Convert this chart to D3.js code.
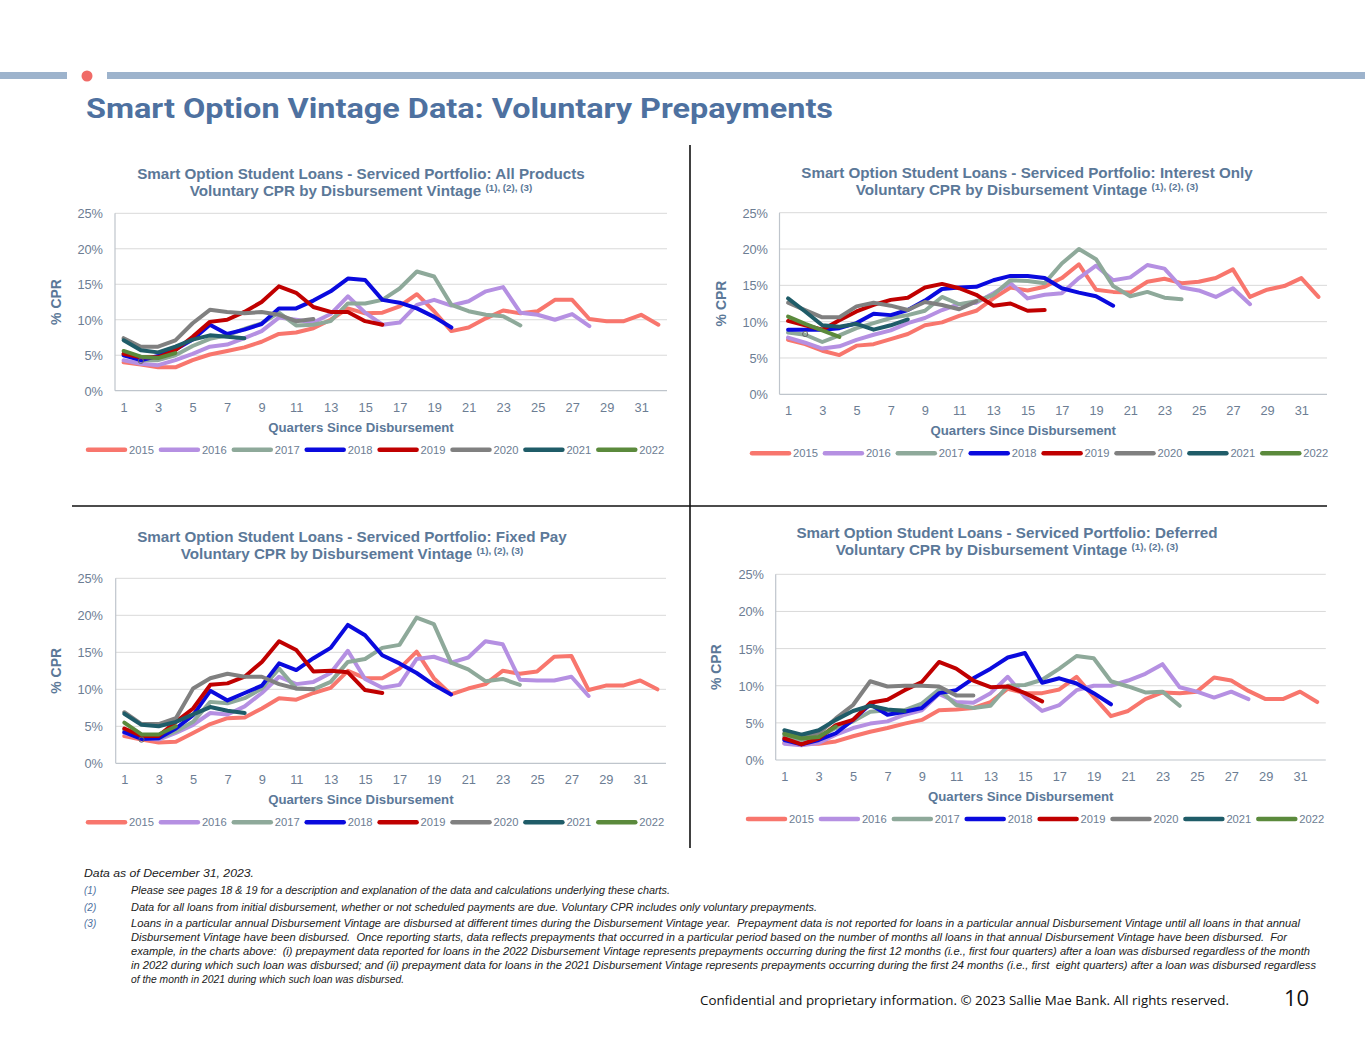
<!DOCTYPE html>
<html>
<head>
<meta charset="utf-8">
<script src="https://cdn.jsdelivr.net/npm/d3@7"></script>
<style>
  body { margin: 0; background: #fff; }
  svg { display: block; font-family: "Liberation Sans", Arial, sans-serif; }
  .ctitle { font-weight: bold; font-size: 15.2px; fill: #5b7898; }
  .tick text { font-size: 12.8px; fill: #6c7d93; }
  .axtitle { font-weight: bold; font-size: 13.2px; fill: #5b7898; }
  .ytitle { font-weight: bold; font-size: 14px; fill: #5b7898; }
  .leg { font-size: 11.2px; fill: #6c7d93; }
  .note { font-style: italic; font-size: 10px; fill: #222; }
</style>
</head>
<body>
<script>
var W = 1365, H = 1055;

var vintages = ["2015", "2016", "2017", "2018", "2019", "2020", "2021", "2022"];
var colors = ["#f8766d", "#b590e2", "#8ea99a", "#0a0ade", "#c00000", "#808080", "#1f5c68", "#5b8a3c"];
var yTicks = [0, 5, 10, 15, 20, 25];
var xTicks = [1, 3, 5, 7, 9, 11, 13, 15, 17, 19, 21, 23, 25, 27, 29, 31];

// % CPR by quarter since disbursement, one array per vintage (2015..2022)
var allProducts = [
  [4.0, 3.7, 3.3, 3.3, 4.3, 5.1, 5.6, 6.1, 6.9, 8.0, 8.2, 8.8, 10.0, 11.6, 10.9, 11.0, 11.9, 13.6, 11.2, 8.4, 8.9, 10.2, 11.3, 10.9, 11.2, 12.8, 12.8, 10.1, 9.8, 9.8, 10.7, 9.3],
  [4.3, 3.8, 3.6, 4.3, 5.2, 6.2, 6.5, 7.4, 8.4, 10.3, 10.0, 9.6, 10.8, 13.3, 11.0, 9.3, 9.6, 12.1, 12.8, 12.0, 12.6, 14.0, 14.6, 11.0, 10.7, 10.0, 10.8, 9.1],
  [5.2, 4.3, 4.3, 5.0, 6.3, 7.3, 7.8, 8.7, 9.5, 11.0, 9.2, 9.3, 9.8, 12.3, 12.3, 12.8, 14.4, 16.8, 16.1, 12.1, 11.2, 10.7, 10.5, 9.2],
  [5.0, 4.3, 4.9, 5.8, 7.2, 9.3, 8.0, 8.6, 9.4, 11.6, 11.6, 12.7, 14.0, 15.8, 15.6, 12.8, 12.4, 11.6, 10.4, 8.9],
  [5.2, 4.7, 4.7, 5.7, 7.6, 9.7, 10.0, 11.1, 12.5, 14.7, 13.8, 11.8, 11.1, 11.1, 9.8, 9.3],
  [7.4, 6.2, 6.2, 7.1, 9.5, 11.4, 11.1, 10.9, 11.1, 10.7, 9.8, 10.1],
  [7.1, 5.7, 5.4, 6.2, 7.2, 7.8, 7.6, 7.4],
  [5.6, 4.8, 4.6, 5.3]
];
var interestOnly = [
  [7.5, 6.9, 6.0, 5.4, 6.7, 6.9, 7.6, 8.3, 9.5, 9.9, 10.8, 11.5, 13.2, 14.7, 14.3, 14.8, 16.0, 17.9, 14.4, 14.1, 14.0, 15.5, 15.9, 15.3, 15.5, 16.0, 17.2, 13.4, 14.4, 14.9, 16.0, 13.4],
  [7.8, 7.1, 6.3, 6.6, 7.5, 8.2, 8.8, 9.8, 10.5, 11.6, 12.4, 12.6, 13.9, 15.3, 13.2, 13.7, 13.9, 16.0, 17.7, 15.7, 16.1, 17.8, 17.3, 14.7, 14.3, 13.4, 14.6, 12.4],
  [8.5, 8.2, 7.2, 8.1, 9.1, 9.8, 10.5, 10.9, 11.5, 13.4, 12.4, 12.8, 13.7, 15.7, 15.6, 15.3, 18.0, 20.0, 18.6, 14.9, 13.5, 14.1, 13.3, 13.1],
  [8.9, 8.9, 8.9, 9.1, 9.8, 11.1, 10.9, 11.6, 12.9, 14.5, 14.7, 14.8, 15.7, 16.3, 16.3, 16.0, 14.6, 14.0, 13.5, 12.2],
  [10.1, 9.5, 8.9, 10.2, 11.4, 12.3, 13.0, 13.3, 14.7, 15.2, 14.6, 13.7, 12.2, 12.5, 11.5, 11.6],
  [12.6, 11.6, 10.6, 10.6, 12.1, 12.6, 12.2, 11.6, 12.7, 12.3, 11.7, 12.8],
  [13.2, 11.4, 9.5, 9.3, 9.7, 8.9, 9.5, 10.3],
  [10.7, 9.7, 8.8, 7.9]
];
var fixedPay = [
  [3.7, 3.2, 2.8, 2.9, 4.1, 5.3, 6.1, 6.2, 7.4, 8.8, 8.6, 9.5, 10.2, 12.5, 11.5, 11.5, 12.8, 15.1, 11.5, 9.3, 10.1, 10.7, 12.5, 12.1, 12.4, 14.4, 14.5, 9.9, 10.5, 10.5, 11.2, 10.0],
  [4.1, 3.4, 3.2, 4.1, 5.2, 6.8, 6.6, 7.7, 9.5, 11.7, 10.7, 11.0, 12.2, 15.2, 11.4, 10.2, 10.6, 14.1, 14.4, 13.6, 14.3, 16.5, 16.1, 11.3, 11.2, 11.2, 11.7, 9.1],
  [4.5, 3.5, 3.4, 4.3, 5.6, 8.3, 8.1, 8.8, 10.1, 12.8, 10.1, 10.0, 11.0, 13.7, 14.1, 15.6, 16.0, 19.7, 18.8, 13.6, 12.7, 11.1, 11.4, 10.6],
  [4.2, 3.3, 3.4, 4.7, 6.5, 9.8, 8.5, 9.5, 10.5, 13.5, 12.6, 14.2, 15.6, 18.7, 17.3, 14.6, 13.5, 12.2, 10.6, 9.3],
  [4.7, 3.7, 3.7, 5.6, 7.4, 10.6, 10.8, 11.7, 13.7, 16.5, 15.3, 12.4, 12.5, 12.3, 9.9, 9.5],
  [6.9, 5.3, 5.3, 6.1, 10.1, 11.5, 12.1, 11.7, 11.7, 10.7, 10.1, 10.0],
  [6.7, 5.2, 5.0, 5.6, 6.6, 7.6, 7.1, 6.8],
  [5.5, 3.9, 3.9, 5.0]
];
var deferred = [
  [2.3, 2.2, 2.2, 2.5, 3.2, 3.8, 4.3, 4.9, 5.4, 6.7, 6.8, 7.0, 7.8, 9.6, 9.0, 9.0, 9.5, 11.2, 8.5, 5.9, 6.6, 8.2, 9.1, 9.0, 9.2, 11.1, 10.7, 9.3, 8.2, 8.2, 9.2, 7.8],
  [2.2, 2.0, 2.3, 3.4, 4.3, 4.9, 5.2, 6.1, 6.7, 8.9, 7.8, 7.7, 9.0, 11.2, 8.5, 6.6, 7.4, 9.4, 10.0, 10.0, 10.7, 11.6, 12.9, 9.8, 9.2, 8.4, 9.2, 8.2],
  [3.2, 2.7, 3.1, 4.3, 5.2, 6.5, 6.7, 6.7, 7.6, 9.5, 7.4, 7.0, 7.3, 10.0, 10.1, 10.8, 12.3, 14.0, 13.7, 10.6, 9.9, 9.1, 9.2, 7.3],
  [2.7, 2.1, 2.7, 3.6, 5.4, 7.5, 6.1, 6.5, 7.0, 9.0, 9.4, 11.0, 12.3, 13.8, 14.4, 10.4, 11.0, 10.3, 9.0, 7.5],
  [2.9, 2.1, 2.9, 4.7, 5.4, 7.7, 8.1, 9.4, 10.5, 13.2, 12.3, 10.7, 9.8, 9.9, 9.0, 7.9],
  [3.6, 3.1, 3.6, 5.6, 7.4, 10.6, 9.9, 10.0, 10.0, 9.9, 8.7, 8.7],
  [4.0, 3.4, 4.0, 5.4, 6.6, 7.3, 6.8, 6.6],
  [3.5, 2.9, 3.1, 4.5]
];
// small open marker that shows at quarter 2 in the source charts
var q2Marker = [4.2, 8.3, 3.2, null];

var panelTitles = [
  "Smart Option Student Loans - Serviced Portfolio: All Products",
  "Smart Option Student Loans - Serviced Portfolio: Interest Only",
  "Smart Option Student Loans - Serviced Portfolio: Fixed Pay",
  "Smart Option Student Loans - Serviced Portfolio: Deferred"
];

var svg = d3.select("body").append("svg")
    .attr("width", W)
    .attr("height", H);

// header band
svg.append("rect").attr("x", 0).attr("y", 72).attr("width", 67).attr("height", 7).attr("fill", "#9db3cc");
svg.append("rect").attr("x", 107).attr("y", 72).attr("width", W - 107).attr("height", 7).attr("fill", "#9db3cc");
svg.append("circle").attr("cx", 87).attr("cy", 76).attr("r", 5.5).attr("fill", "#f06b67");

svg.append("text")
   .attr("x", 86).attr("y", 118)
   .attr("textLength", 747).attr("lengthAdjust", "spacingAndGlyphs")
   .style("font-family", "Roboto, sans-serif").style("font-weight", 700)
   .style("font-size", "28px").style("fill", "#4e71a0")
   .text("Smart Option Vintage Data: Voluntary Prepayments");

// quadrant dividers
svg.append("line").attr("x1", 690).attr("x2", 690).attr("y1", 145).attr("y2", 848)
   .attr("stroke", "#111").attr("stroke-width", 1.6);
svg.append("line").attr("x1", 72).attr("x2", 1327).attr("y1", 506).attr("y2", 506)
   .attr("stroke", "#111").attr("stroke-width", 1.6);

var panels = [
  {data: allProducts,  left: 115,   right: 667,    top: 213.3, bottom: 390.7, tx: 361,  ty: 179, yl: 103, ytx: 56,  legX: 88},
  {data: interestOnly, left: 779.5, right: 1327,   top: 212.7, bottom: 394.3, tx: 1027, ty: 178, yl: 768, ytx: 721, legX: 752},
  {data: fixedPay,     left: 115.7, right: 666,    top: 578.3, bottom: 763.3, tx: 352,  ty: 542, yl: 103, ytx: 56,  legX: 88},
  {data: deferred,     left: 775.7, right: 1325.8, top: 574.3, bottom: 760,   tx: 1007, ty: 538, yl: 764, ytx: 716, legX: 748}
];

panels.forEach(function(p, pi) {
    var g = svg.append("g");
    var quarters = d3.range(1, 33);

    var x = d3.scalePoint().domain(quarters).range([p.left, p.right]).padding(0.5);
    var y = d3.scaleLinear().domain([0, 25]).range([p.bottom, p.top]);

    // titles
    g.append("text").attr("class", "ctitle").attr("x", p.tx).attr("y", p.ty)
     .attr("text-anchor", "middle").text(panelTitles[pi]);
    var t2 = g.append("text").attr("class", "ctitle").attr("x", p.tx).attr("y", p.ty + 17)
     .attr("text-anchor", "middle");
    t2.append("tspan").text("Voluntary CPR by Disbursement Vintage ");
    t2.append("tspan").attr("dy", -5).style("font-size", "9.8px").text("(1), (2), (3)");

    // gridlines
    g.selectAll(".grid").data(yTicks.slice(1)).enter().append("line")
     .attr("x1", p.left).attr("x2", p.right)
     .attr("y1", function(d) { return y(d); }).attr("y2", function(d) { return y(d); })
     .attr("stroke", "#d9d9d9").attr("stroke-width", 1);

    // axis lines
    g.append("line").attr("x1", p.left).attr("x2", p.right).attr("y1", p.bottom).attr("y2", p.bottom)
     .attr("stroke", "#bfc5cc").attr("stroke-width", 1.2);
    g.append("line").attr("x1", p.left).attr("x2", p.left).attr("y1", p.top).attr("y2", p.bottom)
     .attr("stroke", "#bfc5cc").attr("stroke-width", 1.2);

    // y ticks
    var ya = g.append("g").attr("transform", "translate(" + p.yl + ",0)")
       .call(d3.axisLeft(y).tickValues(yTicks).tickSize(0).tickPadding(0).tickFormat(function(d) { return d + "%"; }));
    ya.select(".domain").remove();
    ya.selectAll("text").attr("dy", "0.35em");

    // x ticks
    var xa = g.append("g").attr("transform", "translate(0," + (p.bottom + 12) + ")")
       .call(d3.axisBottom(x).tickValues(xTicks).tickSize(0).tickPadding(0));
    xa.select(".domain").remove();

    g.append("text").attr("class", "axtitle").attr("x", (p.left + p.right) / 2 - 30)
     .attr("y", p.bottom + 41).attr("text-anchor", "middle").text("Quarters Since Disbursement");

    g.append("text").attr("class", "ytitle")
     .attr("transform", "translate(" + p.ytx + "," + ((p.top + p.bottom) / 2) + ") rotate(-90)")
     .attr("dy", "0.35em").attr("text-anchor", "middle").text("% CPR");

    // lines
    var line = d3.line()
        .x(function(d, i) { return x(i + 1); })
        .y(function(d) { return y(d); });

    g.selectAll(".series").data(p.data).enter().append("path")
     .attr("d", line)
     .attr("fill", "none")
     .attr("stroke", function(d, i) { return colors[i]; })
     .attr("stroke-width", 4)
     .attr("stroke-linejoin", "round")
     .attr("stroke-linecap", "round");

    if (q2Marker[pi] != null) {
        g.append("circle").attr("cx", x(2)).attr("cy", y(q2Marker[pi])).attr("r", 2.6)
         .attr("fill", "none").attr("stroke", "#666").attr("stroke-width", 1);
    }

    // legend
    var ly = p.bottom + 59;
    var leg = g.selectAll(".legitem").data(vintages).enter().append("g")
       .attr("transform", function(d, i) { return "translate(" + (p.legX + i * 72.9) + "," + ly + ")"; });
    leg.append("line").attr("x1", 0).attr("x2", 37).attr("y1", 0).attr("y2", 0)
       .attr("stroke", function(d, i) { return colors[i]; }).attr("stroke-width", 4.5)
       .attr("stroke-linecap", "round");
    leg.append("text").attr("class", "leg").attr("x", 41).attr("dy", "0.35em").text(function(d) { return d; });
});

// footnotes
var notes = [
  {n: "",    y: 877, w: 170,  t: "Data as of December 31, 2023."},
  {n: "(1)", y: 894, w: 539,  t: "Please see pages 18 & 19 for a description and explanation of the data and calculations underlying these charts."},
  {n: "(2)", y: 911, w: 686,  t: "Data for all loans from initial disbursement, whether or not scheduled payments are due. Voluntary CPR includes only voluntary prepayments."},
  {n: "(3)", y: 927, w: 1169, t: "Loans in a particular annual Disbursement Vintage are disbursed at different times during the Disbursement Vintage year.  Prepayment data is not reported for loans in a particular annual Disbursement Vintage until all loans in that annual"},
  {n: "",    y: 941, w: 1156, t: "Disbursement Vintage have been disbursed.  Once reporting starts, data reflects prepayments that occurred in a particular period based on the number of months all loans in that annual Disbursement Vintage have been disbursed.  For"},
  {n: "",    y: 955, w: 1179, t: "example, in the charts above:  (i) prepayment data reported for loans in the 2022 Disbursement Vintage represents prepayments occurring during the first 12 months (i.e., first four quarters) after a loan was disbursed regardless of the month"},
  {n: "",    y: 969, w: 1185, t: "in 2022 during which such loan was disbursed; and (ii) prepayment data for loans in the 2021 Disbursement Vintage represents prepayments occurring during the first 24 months (i.e., first  eight quarters) after a loan was disbursed regardless"},
  {n: "",    y: 983, w: 273,  t: "of the month in 2021 during which such loan was disbursed."}
];

notes.forEach(function(d, i) {
    var x0 = i === 0 ? 84 : 131;
    svg.append("text").attr("class", "note").attr("x", x0).attr("y", d.y)
       .attr("textLength", d.w).attr("lengthAdjust", "spacingAndGlyphs")
       .style("white-space", "pre").text(d.t);
    if (d.n) {
        svg.append("text").attr("class", "note").attr("x", 84).attr("y", d.y)
           .style("fill", "#4e71a0").text(d.n);
    }
});

svg.append("text").attr("x", 700).attr("y", 1005)
   .attr("textLength", 529).attr("lengthAdjust", "spacingAndGlyphs")
   .style("font-family", "'Open Sans', sans-serif").style("font-size", "13px").style("fill", "#111")
   .text("Confidential and proprietary information. © 2023 Sallie Mae Bank. All rights reserved.");
svg.append("text").attr("x", 1284).attr("y", 1006)
   .style("font-family", "'Open Sans', sans-serif").style("font-size", "22px").style("fill", "#111")
   .text("10");
</script>
</body>
</html>
